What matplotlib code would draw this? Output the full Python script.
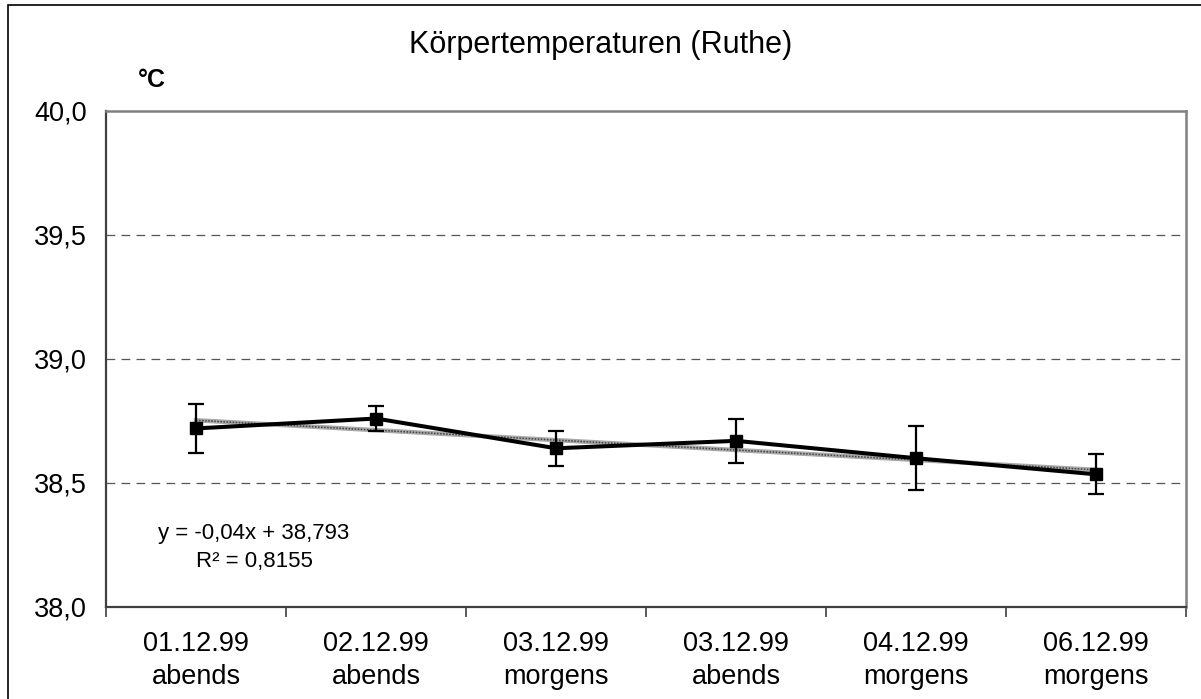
import matplotlib
matplotlib.use("Agg")
import matplotlib.pyplot as plt
from matplotlib.patches import Rectangle
import numpy as np

plt.rcParams['font.family'] = ['Liberation Sans', 'DejaVu Sans']

# Körpertemperaturen, Mittelwert und Streuung je Messung
labels = ['01.12.99\nabends', '02.12.99\nabends', '03.12.99\nmorgens',
          '03.12.99\nabends', '04.12.99\nmorgens', '06.12.99\nmorgens']
temp = [38.72, 38.76, 38.64, 38.67, 38.60, 38.535]
err_lo = [0.10, 0.05, 0.07, 0.09, 0.13, 0.08]
err_hi = [0.10, 0.05, 0.07, 0.09, 0.13, 0.08]

# lineare Trendlinie
slope = -0.04
intercept = 38.793
r2 = 0.8155

x = np.arange(1, len(temp) + 1)

W, H = 1201, 699
fig = plt.figure(figsize=(W / 100, H / 100), dpi=100)
ax = fig.add_axes([106 / W, 1 - 607 / H, 1080 / W, 496 / H])

# Rahmen um das ganze Diagramm
fig.patches.append(Rectangle((8 / W, -0.01), 1.0, 1 - 5 / H + 0.01,
                             transform=fig.transFigure, fill=False,
                             edgecolor='black', linewidth=1.2))

for yv in [38.5, 39.0, 39.5]:
    ax.axhline(yv, color='#555555', lw=0.9, ls=(0, (7, 5)), zorder=1)

trend = intercept + slope * x
ax.plot(x, trend, color='#a8a8a8', lw=3.2, zorder=2)
ax.plot(x, trend, color='#444444', lw=1.1, ls=(0, (1, 1)), zorder=2)

ax.errorbar(x, temp, yerr=[err_lo, err_hi], fmt='-s', color='black',
            lw=2.9, ms=8.5, elinewidth=1.6, capsize=5.5, capthick=1.6,
            zorder=3)

ax.set_xlim(0.5, 6.5)
ax.set_ylim(38.0, 40.0)
ax.set_yticks([38.0, 38.5, 39.0, 39.5, 40.0])
ax.set_yticklabels(['38,0', '38,5', '39,0', '39,5', '40,0'])
ax.tick_params(axis='y', length=0, pad=14, labelsize=19.5)

ax.set_xticks(np.arange(0.5, 7.0, 1.0))
ax.set_xticklabels([])
ax.set_xticks(x, minor=True)
ax.set_xticklabels(labels, minor=True, linespacing=1.38)
ax.tick_params(axis='x', which='major', length=7, width=1.2, color='#404040')
ax.tick_params(axis='x', which='minor', length=0, pad=17, labelsize=19.5)

for side in ['top', 'right']:
    ax.spines[side].set_color('#808080')
    ax.spines[side].set_linewidth(1.8)
for side in ['left', 'bottom']:
    ax.spines[side].set_color('#404040')
    ax.spines[side].set_linewidth(1.6)

fig.text(0.5, 1 - 45 / H, 'Körpertemperaturen (Ruthe)', ha='center',
         va='center', fontsize=22)
fig.text(152 / W, 1 - 80 / H, '°C', ha='center', va='center',
         fontsize=18, fontweight='bold')

fig.text(254 / W, 1 - 533 / H, 'y = -0,04x + 38,793', ha='center',
         va='center', fontsize=16)
fig.text(254 / W, 1 - 562 / H, 'R² = 0,8155', ha='center',
         va='center', fontsize=16)

fig.savefig('out.png', dpi=100)
